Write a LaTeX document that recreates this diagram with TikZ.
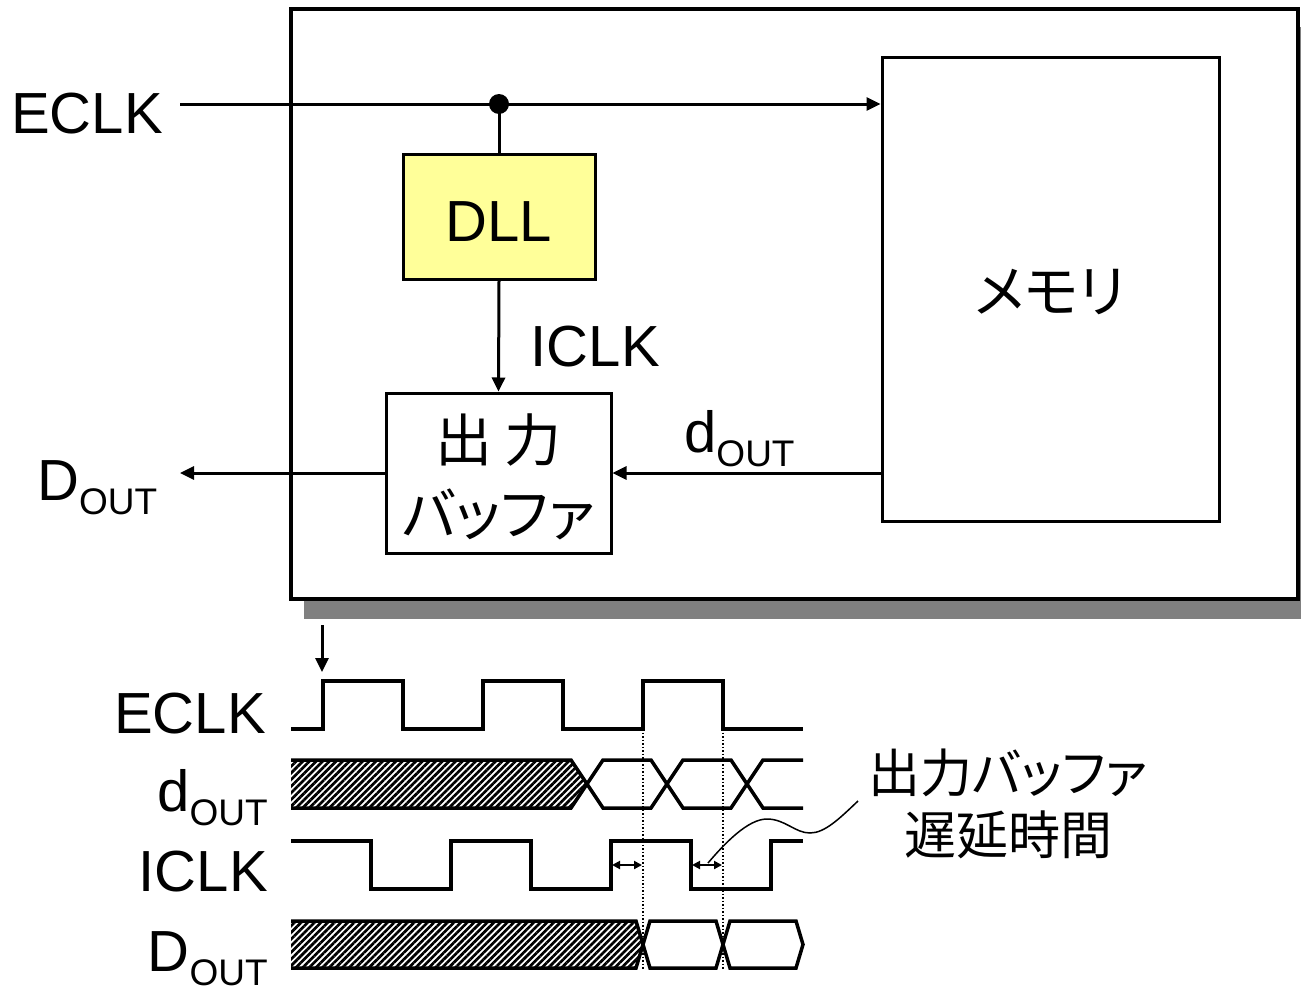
\documentclass[tikz,border=0pt]{standalone}
\usepackage{fontspec}
\setmainfont{Liberation Sans}
\newfontfamily\jp[RawFeature=+palt]{Noto Sans CJK JP}
\usetikzlibrary{arrows.meta,patterns.meta}
\newcommand\subtxt[1]{\raisebox{-14pt}{\fontsize{37}{37}\selectfont #1}}
\definecolor{dllyellow}{HTML}{FFFF99}
\definecolor{shadowgray}{HTML}{808080}
\begin{document}
\begin{tikzpicture}[x=1pt,y=-1pt,
  wire/.style={line width=3pt},
  sig/.style={line width=3.5pt,line join=miter},
  arr/.style={-{Triangle[length=14pt,width=13pt]}},
  lbl/.style={inner sep=0pt,font=\fontsize{58}{60}\selectfont},
  jlbl/.style={inner sep=0pt,font=\fontsize{52}{62}\selectfont\jp,align=center},
  jbig/.style={inner sep=0pt,font=\fontsize{57}{62}\selectfont\jp,align=center},
  blk/.style={draw,line width=3pt,inner sep=0pt},
  hatch/.style={pattern={Lines[angle=45,distance=4.7pt,line width=2.7pt]}},
  dbl/.style={line width=2pt,{Triangle[length=8pt,width=8pt]}-{Triangle[length=8pt,width=8pt]}},
  vguide/.style={line width=1.5pt,dotted}]
\useasboundingbox (0,0) rectangle (1301,991);
\fill[white] (0,0) rectangle (1301,991);
% chip with shadow
\fill[shadowgray] (304,27) rectangle (1312,619);
\node (chip) [draw,line width=4pt,fill=white,inner sep=0pt,minimum width=1007pt,minimum height=590pt] at (794.5,304) {};
% blocks
\node (dll) [blk,fill=dllyellow,minimum width=192pt,minimum height=125pt] at (499,216.5) {};
\node (dlltxt) [lbl] at (499,222) {DLL};
\node (mem) [blk,minimum width=337pt,minimum height=464pt] at (1050.5,289) {};
\node (memtxt) [jbig] at (1050,292) {メモリ};
\node (buf) [blk,minimum width=225pt,minimum height=160pt] at (498.5,473) {};
\node (buftxt1) [jbig] at (498.5,440) {出\hspace{12pt}力};
\node (buftxt2) [jbig] at (498.5,514) {バッファ};
% labels
\node (eclk) [lbl,anchor=base east] at (163,133) {ECLK};
\node (iclk) [lbl,anchor=base east] at (660,366) {ICLK};
\node (doutin) [lbl,anchor=base west] at (684,452) {d\subtxt{OUT}};
\node (dout) [lbl,anchor=base west] at (37,500) {D\subtxt{OUT}};
% connectors
\coordinate (e0) at (180,104);
\coordinate (j) at (dll.north |- e0);
\coordinate (d0) at (180,473);
\draw[wire,arr] (e0) -- (mem.west |- e0);
\draw[wire] (j) -- (dll.north);
\fill (j) circle (10pt);
\draw[wire,arr] (dll.south) -- (buf.north);
\draw[wire,arr] (mem.west |- buf.east) -- (buf.east);
\draw[wire,arr] (buf.west) -- (d0);
% timing labels
\node (teclk) [lbl,anchor=base east] at (266,733) {ECLK};
\node (tdin) [lbl,anchor=base east] at (268,811) {d\subtxt{OUT}};
\node (ticlk) [lbl,anchor=base east] at (268,891) {ICLK};
\node (tdout) [lbl,anchor=base east] at (268,971) {D\subtxt{OUT}};
% start arrow
\coordinate (s0) at (322,625);
\coordinate (s1) at (322,672);
\draw[wire,-{Triangle[length=14pt,width=13pt]}] (s0) -- (s1);
% ECLK wave
\draw[sig] (291,729) -- (323,729) -- (323,681) -- (403,681) -- (403,729) -- (483,729) -- (483,681) -- (563,681) -- (563,729) -- (643,729) -- (643,681) -- (723,681) -- (723,729) -- (803,729);
% dOUT wave
\fill[hatch] (291,760) -- (571,760) -- (587,784) -- (571,808) -- (291,808) -- cycle;
\draw[sig] (291,760) -- (571,760) -- (603,808) -- (651,808) -- (683,760) -- (731,760) -- (763,808) -- (803,808);
\draw[sig] (291,808) -- (571,808) -- (603,760) -- (651,760) -- (683,808) -- (731,808) -- (763,760) -- (803,760);
% ICLK wave
\draw[sig] (291,841) -- (371,841) -- (371,889) -- (451,889) -- (451,841) -- (531,841) -- (531,889) -- (611,889) -- (611,841) -- (691,841) -- (691,889) -- (771,889) -- (771,841) -- (803,841);
% DOUT wave
\fill[hatch] (291,921) -- (636,921) -- (643,944.5) -- (636,968) -- (291,968) -- cycle;
\draw[sig] (291,921) -- (636,921) -- (643,944.5) -- (636,968) -- (291,968);
\draw[sig] (643,944.5) -- (650,921) -- (716,921) -- (723,944.5) -- (716,968) -- (650,968) -- cycle;
\draw[sig] (723,944.5) -- (730,921) -- (796,921) -- (803,944.5) -- (796,968) -- (730,968) -- cycle;
% guides
\draw[vguide] (643,729) -- (643,970);
\draw[vguide] (723,729) -- (723,970);
\draw[dbl] (612,865) -- (642,865);
\draw[dbl] (692,865) -- (722,865);
% annotation
\node (note) [jlbl] at (1008,804) {出力バッファ\\遅延時間};
\coordinate (c0) at (858,801);
\coordinate (c1) at (708,863);
\draw[line width=1.5pt] (c0) .. controls (840,818) and (825,833) .. (810,833) .. controls (795,833) and (785,819) .. (767,819) .. controls (748,819) and (725,843) .. (c1);
\end{tikzpicture}
\end{document}
